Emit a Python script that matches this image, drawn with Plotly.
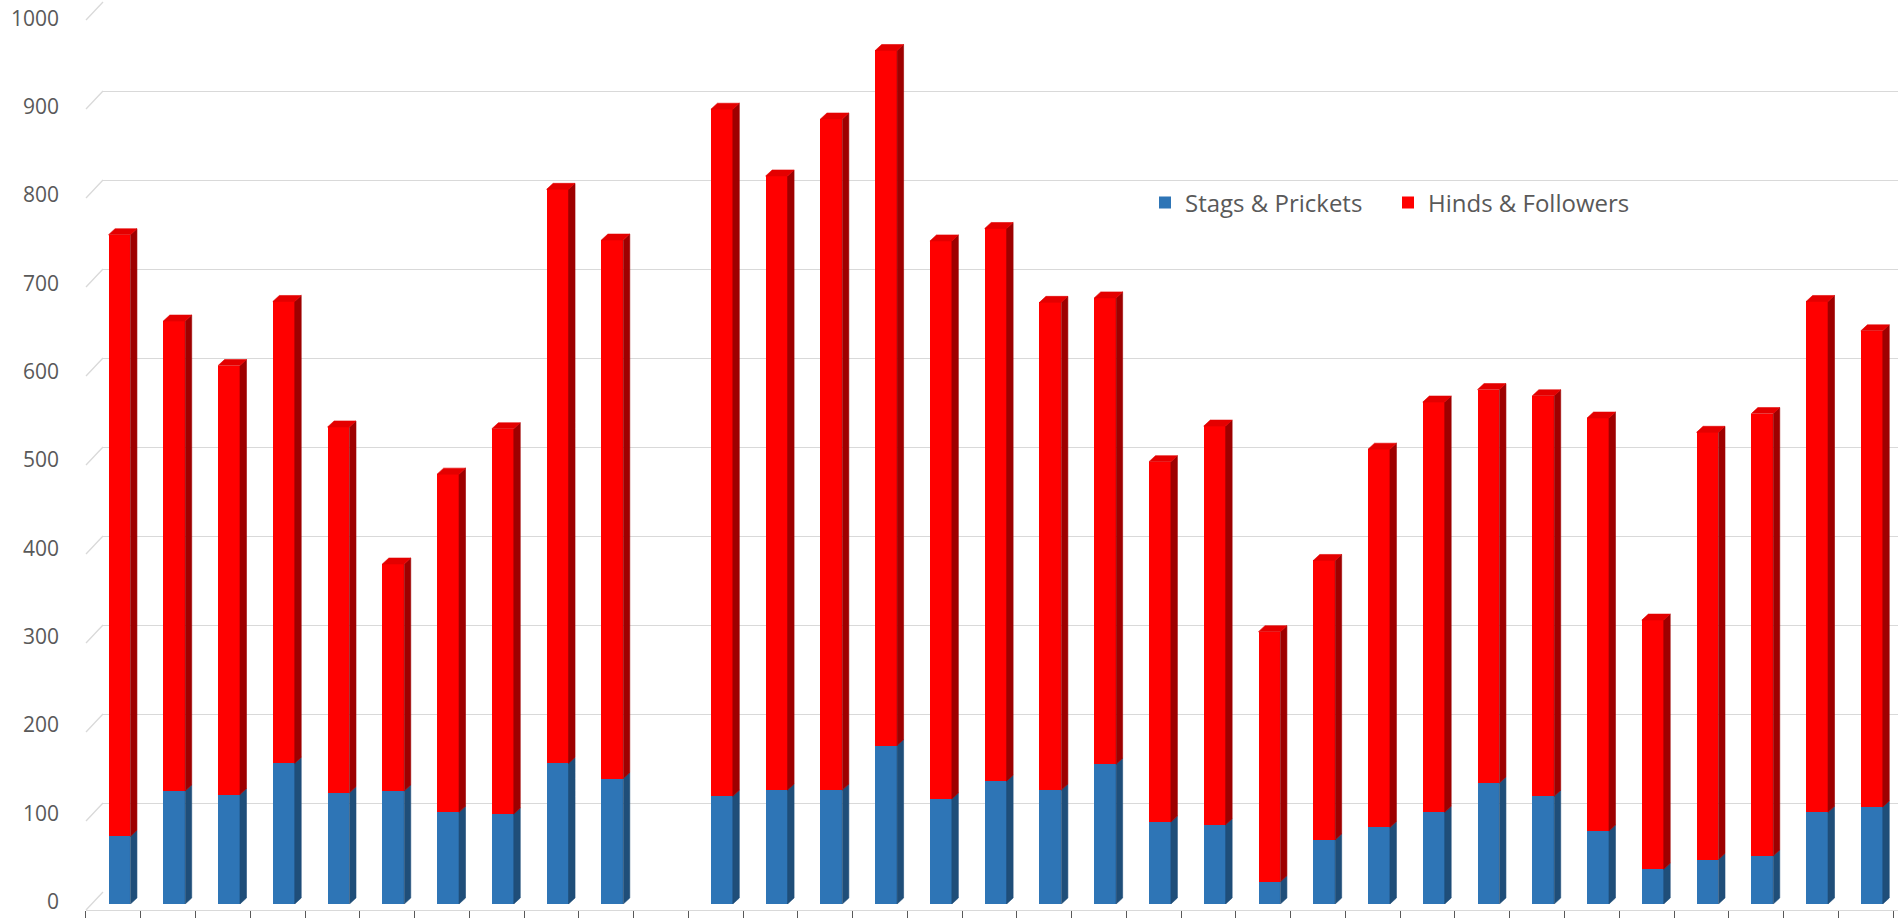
import plotly.graph_objects as go

# Herd counts per survey column (the empty column has no count)
stags = [76, 127, 123, 158, 125, 127, 103, 101, 158, 141, None,
         121, 128, 128, 178, 118, 138, 128, 157, 92, 89, 25,
         72, 86, 103, 136, 121, 82, 39, 50, 54, 103, 109]
hinds = [676, 528, 482, 519, 411, 255, 380, 433, 645, 605, None,
         772, 690, 754, 781, 627, 621, 548, 524, 405, 448, 281,
         314, 425, 461, 442, 450, 464, 280, 480, 497, 574, 535]
positions = list(range(len(stags)))
y_ticks = list(range(0, 1001, 100))

# Canvas geometry (pixels)
W, H = 1898, 918
FLOOR_X = 86        # front-left corner of the floor
WALL_X = 103        # back wall starts here
CAT_PX = 54.76      # width of one category
FIRST_CENTER = 119.5

def px_x(p):
    return p / W

def px_y(p):
    return 1 - p / H

x_range = [(FLOOR_X - FIRST_CENTER) / CAT_PX, (W - FIRST_CENTER) / CAT_PX]
bar_dom = [px_y(904), px_y(14)]
grid_dom = [px_y(892), px_y(2)]
label_dom = [px_y(901.5), px_y(18.5)]

BLUE, BLUE_SIDE = "#2E75B6", "#1F4E79"
RED, RED_SIDE, RED_TOP = "#FF0000", "#9E0000", "#E40000"

HALF_W = 0.20                    # half width of a bar front face (categories)
DEPTH_X = 6.5 / CAT_PX           # depth offset in categories
DEPTH_Y = 6.0 / 0.89             # depth offset in value units

def side_faces(bases, tops):
    xs, ys = [], []
    for p, b, t in zip(positions, bases, tops):
        if b is None or t is None:
            continue
        x0 = p + HALF_W
        x1 = x0 + DEPTH_X
        xs += [x0, x1, x1, x0, x0, None]
        ys += [b, b + DEPTH_Y, t + DEPTH_Y, t, b, None]
    return xs, ys

def top_faces(tops):
    xs, ys = [], []
    for p, t in zip(positions, tops):
        if t is None:
            continue
        xl, xr = p - HALF_W, p + HALF_W
        xs += [xl, xl + DEPTH_X, xr + DEPTH_X, xr, xl, None]
        ys += [t, t + DEPTH_Y, t + DEPTH_Y, t, t, None]
    return xs, ys

zeros = [0 if s is not None else None for s in stags]
totals = [s + h if s is not None else None for s, h in zip(stags, hinds)]

fig = go.Figure()

# back wall subplot (gridlines)
fig.add_trace(go.Scatter(x=[0.5], y=[0], mode="markers", marker=dict(opacity=0),
                         hoverinfo="skip", showlegend=False, xaxis="x", yaxis="y"))

# front faces
fig.add_trace(go.Bar(x=positions, y=stags, name="Stags & Prickets", width=2 * HALF_W,
                     marker=dict(color=BLUE, line=dict(width=0)),
                     xaxis="x2", yaxis="y2", legend="legend"))
fig.add_trace(go.Bar(x=positions, y=hinds, name="Hinds & Followers", width=2 * HALF_W,
                     marker=dict(color=RED, line=dict(width=0)),
                     xaxis="x2", yaxis="y2", legend="legend2"))

# depth faces
for xs_ys, col in [(side_faces(zeros, stags), BLUE_SIDE),
                   (side_faces(stags, totals), RED_SIDE),
                   (top_faces(totals), RED_TOP)]:
    xs, ys = xs_ys
    fig.add_trace(go.Scatter(x=xs, y=ys, mode="lines", fill="toself", fillcolor=col,
                             line=dict(color=col, width=0.6), hoverinfo="skip",
                             showlegend=False, xaxis="x2", yaxis="y2"))

# value-label axis along the front left edge
fig.add_trace(go.Scatter(x=[0], y=[0], mode="markers", marker=dict(opacity=0),
                         hoverinfo="skip", showlegend=False, xaxis="x2", yaxis="y3"))

# left wall slants joining the front edge to the back wall gridlines
shapes = []
for v in y_ticks:
    gy = grid_dom[0] + (grid_dom[1] - grid_dom[0]) * v / 1000
    shapes.append(dict(type="line", xref="paper", yref="paper",
                       x0=px_x(FLOOR_X), y0=gy - 18 / H, x1=px_x(WALL_X), y1=gy,
                       line=dict(color="#D9D9D9", width=1.3), layer="below"))

font = dict(family="Open Sans", color="#595959")

fig.update_layout(
    width=W, height=H,
    margin=dict(l=0, r=0, t=0, b=0, autoexpand=False),
    paper_bgcolor="white", plot_bgcolor="rgba(0,0,0,0)",
    barmode="stack",
    showlegend=True,
    shapes=shapes,
    xaxis=dict(domain=[px_x(WALL_X), 1], range=[0, 1], visible=False,
               automargin=False, fixedrange=True),
    yaxis=dict(domain=grid_dom, range=[0, 1000], tickvals=y_ticks,
               showgrid=True, gridcolor="#D9D9D9", gridwidth=1.3,
               zeroline=False, showline=False, ticks="", showticklabels=False,
               automargin=False, fixedrange=True),
    xaxis2=dict(domain=[px_x(FLOOR_X), 1], range=x_range, anchor="free",
                position=px_y(910), showgrid=False, zeroline=False,
                showline=True, linecolor="#D9D9D9", linewidth=1.3,
                ticks="outside", ticklen=12, tickwidth=1.3, tickcolor="#595959",
                tickvals=[p - 0.612 for p in positions + [len(positions)]],
                showticklabels=False, automargin=False, fixedrange=True),
    yaxis2=dict(domain=bar_dom, range=[0, 1000], anchor="x2", visible=False,
                automargin=False, fixedrange=True),
    yaxis3=dict(domain=label_dom, range=[0, 1000], anchor="free",
                position=px_x(WALL_X), tickvals=y_ticks, showgrid=False,
                zeroline=False, showline=False, ticks="",
                tickfont=dict(size=21, **font), ticklabelstandoff=44,
                ticklabeloverflow="allow", automargin=False, fixedrange=True),
    legend=dict(orientation="h", x=px_x(1145), y=px_y(203), xanchor="left",
                yanchor="middle", bgcolor="rgba(0,0,0,0)",
                font=dict(size=24, **font)),
    legend2=dict(orientation="h", x=px_x(1388), y=px_y(203), xanchor="left",
                 yanchor="middle", bgcolor="rgba(0,0,0,0)",
                 font=dict(size=24, **font)),
)

fig.write_html("out.html")
